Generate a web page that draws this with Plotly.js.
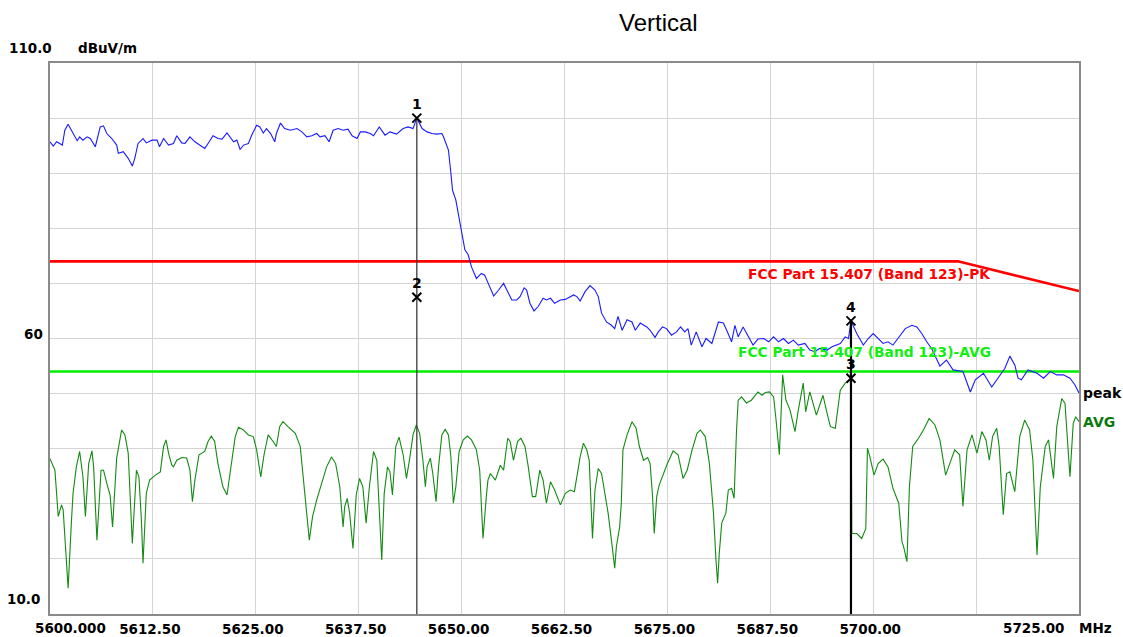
<!DOCTYPE html>
<html>
<head>
<meta charset="utf-8">
<script src="https://cdn.plot.ly/plotly-3.0.1.min.js"></script>
<style>html,body{margin:0;padding:0;background:#fff;}#chart{width:1123px;height:637px;}</style>
</head>
<body>
<div id="chart"></div>
<script>
// ---- Peak trace (blue) ----
const peakFreq = [5600.0,5600.4,5600.8,5601.2,5601.5,5601.8,5602.2,5602.6,5603.0,5603.3,5603.6,5604.0,5604.5,5604.9,5605.5,5606.1,5606.5,5606.9,5607.5,5608.1,5608.3,5608.9,5609.5,5610.0,5610.3,5610.7,5611.3,5611.7,5612.4,5613.0,5613.3,5613.8,5614.4,5615.0,5615.4,5616.0,5616.4,5617.0,5617.6,5618.2,5618.8,5619.2,5619.8,5620.4,5620.9,5621.5,5621.9,5622.3,5622.7,5623.1,5623.5,5624.1,5624.5,5625.1,5625.5,5625.9,5626.3,5626.8,5627.3,5627.5,5628.0,5628.5,5629.2,5630.0,5630.6,5631.2,5631.8,5632.4,5632.8,5633.4,5633.9,5634.4,5635.0,5635.6,5636.2,5636.7,5637.3,5637.7,5638.3,5638.9,5639.3,5640.0,5640.7,5641.3,5642.1,5642.9,5643.5,5644.1,5644.56,5645.2,5645.8,5646.4,5647.0,5647.6,5647.8,5648.2,5648.4,5648.7,5648.9,5649.3,5649.6,5650.0,5650.4,5650.8,5651.2,5651.8,5652.4,5652.8,5653.2,5653.9,5654.5,5655.1,5655.5,5656.1,5656.7,5657.1,5657.6,5657.9,5658.3,5658.8,5659.3,5659.9,5660.3,5660.8,5661.3,5662.0,5662.6,5663.2,5663.6,5664.0,5664.4,5665.0,5665.6,5666.2,5666.6,5667.0,5667.6,5668.2,5668.6,5669.0,5669.5,5670.1,5670.7,5671.1,5671.7,5672.5,5672.9,5673.5,5673.9,5674.4,5674.9,5675.5,5676.1,5676.6,5677.1,5677.5,5677.9,5678.5,5679.2,5679.7,5680.4,5681.2,5681.8,5682.2,5682.8,5683.2,5683.6,5684.2,5684.8,5685.4,5686.0,5686.7,5687.3,5687.9,5688.5,5689.1,5689.7,5690.3,5690.9,5691.7,5692.3,5692.9,5693.5,5694.4,5695.0,5696.0,5696.6,5697.0,5697.3,5698.0,5698.8,5699.4,5700.0,5700.6,5701.2,5701.8,5702.4,5703.0,5703.9,5704.7,5705.3,5705.9,5706.5,5707.1,5707.7,5708.1,5708.9,5709.7,5710.9,5711.3,5711.8,5712.4,5713.4,5714.4,5715.2,5716.0,5716.6,5717.2,5717.6,5718.0,5718.8,5719.9,5720.7,5721.5,5722.3,5723.1,5723.9,5724.5,5725.0];
const peakVals = [95.7,94.9,95.7,95.3,95.1,97.8,98.9,97.8,96.8,95.9,96.6,96.0,96.6,96.3,94.8,98.4,98.6,97.2,96.3,95.1,93.6,93.9,92.7,91.3,92.7,95.4,96.3,95.5,96.0,96.0,94.8,96.3,95.1,95.4,96.8,95.5,95.4,96.6,95.7,95.1,94.5,95.4,96.8,96.3,96.2,97.3,96.6,95.7,96.0,94.3,95.1,95.4,96.9,98.7,98.4,97.3,98.1,97.2,95.7,97.2,99.1,98.1,97.8,98.1,97.5,96.6,96.8,97.2,96.6,96.8,95.7,97.8,98.1,97.8,98.0,96.8,96.3,97.5,97.5,97.2,96.8,98.4,96.9,97.5,97.1,98.1,98.4,98.1,100.0,98.1,97.5,97.2,97.1,97.2,96.6,95.1,94.2,90.0,86.9,85.1,82.7,79.1,76.1,75.2,73.0,70.9,71.8,71.5,70.0,67.7,68.8,70.0,68.8,67.0,67.0,67.6,69.2,68.8,66.4,65.0,65.8,67.3,67.0,67.3,66.4,67.0,67.1,67.6,67.9,67.6,66.8,68.5,69.6,68.8,67.6,64.6,63.0,62.4,61.8,64.0,61.5,63.4,63.0,61.5,62.8,62.1,61.5,60.2,61.2,62.1,61.8,60.6,61.2,62.1,61.2,61.8,58.8,61.2,58.5,60.0,59.1,63.0,62.8,61.5,59.4,62.4,60.3,62.1,60.3,58.8,59.9,60.0,59.4,60.3,59.4,60.0,59.1,59.7,58.8,59.1,57.9,57.6,58.2,57.9,58.5,59.1,60.3,60.0,63.2,60.9,58.8,60.0,60.9,60.0,59.1,59.4,58.8,60.0,61.8,62.4,62.1,60.9,59.4,58.2,56.4,55.0,56.1,54.3,54.0,52.2,50.3,52.5,53.7,51.2,52.8,54.6,56.8,55.2,52.8,52.5,54.3,53.7,52.8,54.0,53.4,53.4,52.8,51.6,50.1];

// ---- Average trace (green) ----
const avgFreq = [5600.0,5600.6,5601.0,5601.4,5601.6,5602.0,5602.2,5602.6,5602.8,5603.2,5603.6,5604.0,5604.3,5604.7,5605.1,5605.3,5605.7,5606.2,5606.5,5606.9,5607.3,5607.6,5608.1,5608.7,5609.1,5609.5,5609.8,5610.0,5610.5,5610.8,5611.1,5611.3,5611.7,5612.1,5612.8,5613.4,5613.8,5614.1,5614.4,5614.8,5615.0,5615.4,5616.0,5616.6,5617.0,5617.3,5617.6,5618.1,5618.8,5619.2,5619.6,5620.0,5620.4,5621.0,5621.5,5622.1,5622.5,5622.9,5623.5,5624.1,5624.7,5625.1,5625.6,5626.0,5626.5,5627.1,5627.5,5627.9,5628.3,5628.9,5629.8,5630.4,5630.8,5631.2,5631.5,5631.9,5632.4,5633.0,5633.6,5634.2,5634.7,5635.2,5635.6,5635.8,5636.1,5636.4,5636.8,5637.2,5637.6,5638.0,5638.4,5638.8,5639.3,5639.7,5640.0,5640.3,5640.6,5641.0,5641.3,5641.6,5642.0,5642.4,5642.9,5643.3,5643.7,5644.1,5644.5,5644.9,5645.3,5645.6,5645.8,5646.2,5646.5,5646.9,5647.2,5647.6,5648.0,5648.4,5648.7,5649.0,5649.3,5649.7,5650.2,5650.7,5651.2,5651.8,5652.2,5652.4,5652.6,5653.0,5653.2,5653.5,5654.1,5654.7,5655.1,5655.6,5655.9,5656.3,5656.8,5657.2,5657.7,5658.1,5658.6,5659.0,5659.5,5659.9,5660.3,5660.8,5661.3,5662.0,5662.6,5663.2,5663.7,5664.0,5664.4,5664.8,5665.2,5665.5,5665.8,5665.9,5666.2,5666.6,5667.0,5667.4,5667.8,5668.2,5668.6,5668.8,5669.2,5669.4,5669.6,5670.1,5670.7,5671.2,5671.6,5672.1,5672.6,5672.9,5673.2,5673.4,5673.7,5674.0,5674.5,5675.0,5675.7,5676.3,5676.9,5677.4,5678.0,5678.6,5679.0,5679.6,5680.1,5680.6,5680.9,5681.1,5681.3,5681.6,5682.1,5682.4,5682.8,5683.1,5683.4,5683.6,5684.0,5684.6,5685.2,5686.0,5686.5,5686.9,5687.4,5687.9,5688.2,5688.6,5689.0,5689.4,5689.9,5690.5,5690.9,5691.5,5691.8,5692.3,5693.1,5693.9,5694.4,5694.8,5695.4,5696.0,5696.6,5697.2,5697.3,5697.4,5698.0,5698.6,5699.1,5699.3,5699.6,5700.1,5700.6,5701.2,5701.8,5702.4,5703.1,5703.5,5703.7,5704.1,5704.4,5704.8,5705.5,5706.1,5706.8,5707.5,5708.1,5708.8,5709.3,5709.9,5710.5,5710.9,5711.4,5712.0,5712.6,5713.2,5713.7,5714.1,5714.5,5715.0,5715.3,5715.8,5716.2,5716.6,5717.2,5717.8,5718.4,5719.0,5719.4,5719.9,5720.3,5720.9,5721.3,5721.9,5722.3,5722.9,5723.3,5723.7,5723.9,5724.3,5724.6,5725.0];
const avgVals = [38.2,36.1,27.7,29.8,28.9,19.5,14.7,26.7,31.9,36.7,39.5,34.9,27.7,37.3,39.6,36.7,23.4,36.1,36.1,33.7,31.6,25.8,38.3,43.4,42.5,39.2,30.7,22.8,36.1,34.9,27.1,19.2,31.9,34.3,35.2,35.8,40.4,41.6,39.2,37.0,36.7,37.9,38.4,38.3,36.1,30.4,34.3,38.9,39.5,41.3,42.3,41.3,37.3,33.1,31.6,38.5,42.2,43.9,43.4,42.5,42.2,39.8,34.9,38.9,42.5,41.3,40.4,44.0,44.9,44.0,42.8,40.4,34.3,27.7,23.4,27.7,30.7,33.7,36.7,38.5,37.3,33.1,25.8,29.5,31.0,28.3,21.9,31.6,34.6,33.1,26.5,33.1,39.5,37.9,29.5,19.8,31.9,36.7,35.8,31.6,40.4,42.1,38.9,34.6,38.3,42.5,44.3,42.8,37.9,33.1,36.7,38.3,35.5,30.4,36.7,42.5,43.5,42.5,38.5,30.1,33.1,39.5,41.6,42.3,41.6,39.8,36.1,28.9,23.7,31.3,34.3,35.5,34.3,37.0,36.1,41.9,41.3,37.9,41.3,41.9,40.4,36.7,31.3,31.3,36.1,34.3,30.1,34.0,32.5,29.8,31.9,32.5,32.2,34.9,38.5,41.0,39.8,37.9,28.9,23.7,32.5,36.4,35.5,31.9,28.3,23.4,18.3,22.2,25.8,30.1,39.8,42.5,44.9,43.7,40.4,37.9,38.4,37.3,31.3,24.6,31.3,33.4,35.5,37.3,39.6,38.9,34.6,36.1,39.8,42.8,43.4,42.2,37.3,28.3,19.8,15.6,21.0,26.5,28.3,32.5,32.8,31.0,43.4,48.8,49.4,48.3,48.8,50.3,49.7,50.2,50.3,49.4,45.2,38.9,53.4,48.8,47.0,43.1,47.0,51.9,46.7,50.3,46.1,49.7,46.4,44.0,43.7,50.6,51.9,52.5,52.8,24.6,24.6,23.7,25.5,40.1,38.5,35.2,37.3,38.1,36.7,32.8,30.1,23.1,22.2,19.5,33.1,40.4,41.9,43.4,45.5,44.3,41.6,35.2,37.3,39.8,38.9,29.5,39.8,42.5,39.2,43.1,41.6,37.9,42.2,43.7,40.4,28.0,35.5,35.8,32.2,42.2,45.2,43.4,37.9,20.7,33.1,40.4,41.6,34.6,44.0,49.1,48.2,38.3,34.9,44.6,45.8,44.9];

// ---- Limit lines ----
const limitPkFreq = [5600, 5710.3, 5725];
const limitPkVals = [74, 74, 68.6];
const limitAvgFreq = [5600, 5725];
const limitAvgVals = [54, 54];
const limitPkName = 'FCC Part 15.407 (Band 123)-PK';
const limitAvgName = 'FCC Part 15.407 (Band 123)-AVG';
const limitPkLabelPos = [5699.6, 71.7];
const limitAvgLabelPos = [5698.9, 57.5];

// ---- Markers ----
const markerIds = ['1', '2', '3', '4'];
const markerFreq = [5644.56, 5644.56, 5697.3, 5697.3];
const markerVals = [100.0, 67.5, 52.8, 63.2];

// ---- Axes ----
const xRange = [5600, 5725];
const yRange = [10, 110];
const xTickVals = [5600, 5612.5, 5625, 5637.5, 5650, 5662.5, 5675, 5687.5, 5700, 5712.5, 5725];
const xTickText = ['5600.000', '5612.50', '5625.00', '5637.50', '5650.00', '5662.50', '5675.00', '5687.50', '5700.00', '', '5725.00'];
const xUnit = 'MHz';
const yTickVals = [10, 20, 30, 40, 50, 60, 70, 80, 90, 100, 110];
const yLabelVals = [110, 60, 10];
const yLabelText = ['110.0', '60', '10.0'];
const yUnit = 'dBuV/m';
const chartTitle = 'Vertical';
const peakLabel = 'peak';
const avgLabel = 'AVG';

const F = 'DejaVu Sans';
const boldFont = (size, color) => ({family: F, size: size, color: color || '#000', weight: 'bold'});

const traces = [];
traces.push({x: limitPkFreq, y: limitPkVals, mode: 'lines', line: {color: '#ff0000', width: 2.6}, hoverinfo: 'skip'});
traces.push({x: limitAvgFreq, y: limitAvgVals, mode: 'lines', line: {color: '#00ee00', width: 2.6}, hoverinfo: 'skip'});
traces.push({x: avgFreq, y: avgVals, mode: 'lines', line: {color: '#138a13', width: 1.1}, hoverinfo: 'skip'});
traces.push({x: peakFreq, y: peakVals, mode: 'lines', line: {color: '#1a1aff', width: 1.1}, hoverinfo: 'skip'});

// marker vertical lines: one per distinct frequency, from the highest marker down to the axis bottom
const groups = {};
markerFreq.forEach((f, i) => { groups[f] = Math.max(groups[f] === undefined ? -1e9 : groups[f], markerVals[i]); });
Object.keys(groups).map(Number).sort((a, b) => a - b).forEach((f, k) => {
  traces.push({x: [f, f], y: [groups[f], yRange[0]], mode: 'lines',
    line: {color: k === 0 ? '#3a3a3a' : '#000', width: k === 0 ? 1.3 : 2.2}, hoverinfo: 'skip'});
});
traces.push({x: markerFreq, y: markerVals, mode: 'markers',
  marker: {symbol: 'x-thin', size: 9, line: {color: '#000', width: 2}, color: '#000'}, hoverinfo: 'skip'});

const annotations = [];
markerIds.forEach((id, i) => annotations.push({x: markerFreq[i], y: markerVals[i], xref: 'x', yref: 'y', text: id,
  showarrow: false, yshift: 14, font: boldFont(14)}));
annotations.push({x: limitPkLabelPos[0], y: limitPkLabelPos[1], xref: 'x', yref: 'y', text: limitPkName, showarrow: false, font: boldFont(13.8, '#ff0000')});
annotations.push({x: limitAvgLabelPos[0], y: limitAvgLabelPos[1], xref: 'x', yref: 'y', text: limitAvgName, showarrow: false, font: boldFont(13.8, '#11ee11')});
annotations.push({x: peakFreq[peakFreq.length - 1], y: peakVals[peakVals.length - 1], xref: 'x', yref: 'y', text: peakLabel,
  showarrow: false, xanchor: 'left', xshift: 2, font: boldFont(14, '#000')});
annotations.push({x: avgFreq[avgFreq.length - 1], y: avgVals[avgVals.length - 1], xref: 'x', yref: 'y', text: avgLabel,
  showarrow: false, xanchor: 'left', xshift: 2, font: boldFont(14, '#0a7a0a')});
// title
annotations.push({x: 0.591, y: 1, xref: 'paper', yref: 'paper', yshift: 41, text: chartTitle, showarrow: false,
  yanchor: 'middle', font: {family: 'Liberation Sans, Arial', size: 24, color: '#000'}});
// y labels
const yShifts = [15, 5, 15];
const yXShift = [4, -5, -8];
yLabelVals.forEach((v, i) => annotations.push({x: 0, y: v, xref: 'paper', yref: 'y', text: yLabelText[i], showarrow: false,
  xanchor: 'right', yanchor: 'middle', xshift: yXShift[i], yshift: yShifts[i], font: boldFont(13.5)}));
annotations.push({x: 0, y: yRange[1], xref: 'paper', yref: 'y', text: yUnit, showarrow: false, xanchor: 'left',
  yanchor: 'middle', xshift: 26, yshift: 15, font: boldFont(13.5)});
// end x labels
annotations.push({x: xTickVals[0], y: 0, xref: 'x', yref: 'paper', text: xTickText[0], showarrow: false, xanchor: 'center',
  yanchor: 'middle', xshift: 20, yshift: -14, font: boldFont(13.5)});
annotations.push({x: xTickVals[xTickVals.length - 1], y: 0, xref: 'x', yref: 'paper', text: xTickText[xTickText.length - 1], showarrow: false,
  xanchor: 'right', yanchor: 'middle', xshift: -12, yshift: -14, font: boldFont(13.5)});
annotations.push({x: xTickVals[xTickVals.length - 1], y: 0, xref: 'x', yref: 'paper', text: xUnit, showarrow: false,
  xanchor: 'left', yanchor: 'middle', xshift: -2, yshift: -14, font: boldFont(13.5)});

const midTickText = xTickText.map((t, i) => (i === 0 || i === xTickText.length - 1) ? '' : t);

const layout = {
  width: 1123, height: 637,
  margin: {l: 50, r: 44, t: 63, b: 23, pad: 0},
  paper_bgcolor: '#fff', plot_bgcolor: '#fff',
  showlegend: false,
  xaxis: {range: xRange, tickmode: 'array', tickvals: xTickVals, ticktext: midTickText,
    showgrid: true, gridcolor: '#d4d4d4', gridwidth: 1, zeroline: false,
    showline: true, mirror: true, linecolor: '#8a8a8a', linewidth: 2,
    ticks: '', ticklabelshift: -3, ticklabelstandoff: 2, tickfont: boldFont(13.5), fixedrange: true},
  yaxis: {range: yRange, tickmode: 'array', tickvals: yTickVals, showticklabels: false,
    showgrid: true, gridcolor: '#d4d4d4', gridwidth: 1, zeroline: false,
    showline: true, mirror: true, linecolor: '#8a8a8a', linewidth: 2, ticks: '', fixedrange: true},
  annotations: annotations
};

Plotly.newPlot('chart', traces, layout, {displayModeBar: false, staticPlot: true});
</script>
</body>
</html>
